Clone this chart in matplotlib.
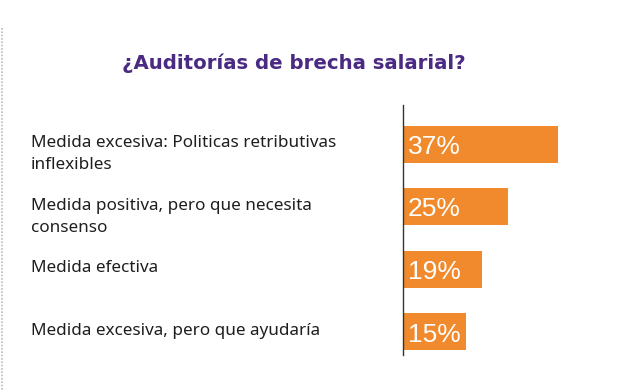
import matplotlib
matplotlib.use("Agg")
import matplotlib.pyplot as plt
import matplotlib.transforms as mtransforms
from matplotlib.lines import Line2D

title = "¿Auditorías de brecha salarial?"
categories = [
    "Medida excesiva: Politicas retributivas\ninflexibles",
    "Medida positiva, pero que necesita\nconsenso",
    "Medida efectiva",
    "Medida excesiva, pero que ayudaría",
]
values = [37, 25, 19, 15]

BAR_COLOR = "#F08A2C"
TITLE_COLOR = "#4A2A83"
TEXT_COLOR = "#1E1E1E"

W, H, DPI = 640, 390, 100
fig = plt.figure(figsize=(W / DPI, H / DPI), dpi=DPI)
fig.patch.set_facecolor("white")

def fx(px):
    return px / W

def fy(py):
    return 1 - py / H

# axes: spans pixel x 403..612, y 105..355
ax = fig.add_axes([fx(403), fy(355), fx(612) - fx(403), (355 - 105) / H])
ypos = list(range(len(values)))
ax.barh(ypos, values, height=0.59, color=BAR_COLOR, left=0)
ax.set_xlim(0, 50)
ax.set_ylim(3.37, -0.625)
for s in ["top", "right", "bottom"]:
    ax.spines[s].set_visible(False)
ax.spines["left"].set_color("#333333")
ax.spines["left"].set_linewidth(1.0)
ax.set_xticks([])
ax.set_yticks([])
ax.patch.set_alpha(0)

# percentage labels inside bars
pct_tr = mtransforms.offset_copy(ax.transData, fig=fig, x=4.7 * 72 / DPI, y=-9.7 * 72 / DPI, units="points")
for y, v in zip(ypos, values):
    ax.text(0, y, f"{v}%", transform=pct_tr, color="white",
            fontsize=19, family="Liberation Sans", ha="left", va="baseline")

# category labels on the left
blend = mtransforms.blended_transform_factory(fig.transFigure, ax.transData)
for y, lab in zip(ypos, categories):
    for i, line in enumerate(lab.split("\n")):
        tr = mtransforms.offset_copy(blend, fig=fig, x=0, y=-(3 + i * 22) * 72 / DPI, units="points")
        ax.text(fx(31), y, line, transform=tr, color=TEXT_COLOR, fontsize=12.3,
                family="Noto Sans", ha="left", va="baseline", clip_on=False)

# title
fig.text(fx(294), fy(69.3), title, color=TITLE_COLOR, fontsize=14.2,
         fontweight="bold", family="DejaVu Sans", ha="center", va="baseline")

# dotted left border
fig.add_artist(Line2D([fx(1.5), fx(1.5)], [fy(28), fy(390)], transform=fig.transFigure,
                      color="#BBBBBB", linestyle=(0, (1, 1)), linewidth=1.2))

fig.savefig("out.png", dpi=DPI, facecolor="white")
